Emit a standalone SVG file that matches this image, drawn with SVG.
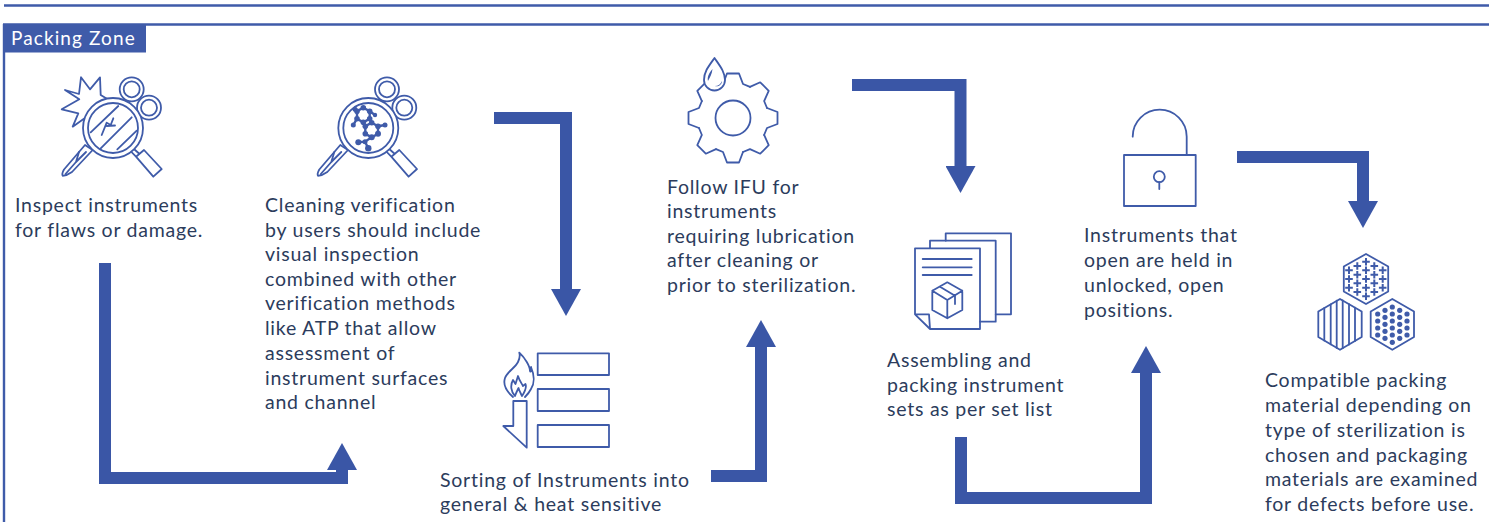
<svg xmlns="http://www.w3.org/2000/svg" xmlns:xlink="http://www.w3.org/1999/xlink" width="1489" height="522" viewBox="0 0 1489 522">
<style>
text{font-family:"Lato","Liberation Sans",sans-serif;font-size:19.5px;fill:#2c3c5c;letter-spacing:.76px}
.zone{fill:#fff;font-size:19px;letter-spacing:1.1px}
.ic{fill:none;stroke:#3f5ba9;stroke-width:1.8;stroke-linejoin:round;stroke-linecap:round}
.icw{fill:#fff;stroke:#3f5ba9;stroke-width:1.8;stroke-linejoin:round}
.fl{fill:#3f5ba9;stroke:none}
.conn{fill:none;stroke:#3a56a6;stroke-width:12;stroke-linejoin:miter}
.frame{fill:none;stroke:#3f5ba9;stroke-width:2.4}
</style>
<defs>
<marker id="head" markerUnits="userSpaceOnUse" markerWidth="27" markerHeight="30" refX="1" refY="15" orient="auto">
<path d="M0 0L27 15L0 30Z" fill="#3a56a6"/>
</marker>
<g id="tooth"><polyline points="34,-10 44.5,-6 44.5,6 34,10 31.1,17" class="ic"/></g>
<g id="plus"><path d="M-3.8 0H3.8M0-3.8V3.8" fill="none" stroke="#3f5ba9" stroke-width="2"/></g>
<g id="tool">
<path class="ic" d="M136 156.7L144 150L161.7 169L153.3 176.7ZM134.500 149.500L139 153.500M130.500 151L136 156.700"/>
<path class="icw" d="M85 145L64 169.500Q61.500 174 62.700 175.800Q67 175.500 72 172L92.700 150Z"/>
<path class="ic" d="M65.500 174L76 162L79 152M76 162L86 152"/>
<circle class="icw" cx="131.700" cy="89.300" r="12"/>
<circle class="ic" cx="131.700" cy="89.300" r="8"/>
<circle class="icw" cx="149" cy="107.700" r="12"/>
<circle class="ic" cx="149" cy="107.700" r="8"/>
<circle class="icw" cx="113" cy="128" r="30"/>
<circle class="ic" cx="113" cy="128" r="25"/>
</g>
</defs>

<g id="frame">
<path class="frame" d="M4 5.500H1489M3 24.500H1489M4 24V522"/>
</g>

<g id="zone-label">
<rect x="3" y="24" width="143" height="28.500" fill="#3f5ba9"/>
<text class="zone" x="11" y="44.500">Packing Zone</text>
</g>

<g id="connectors">
<polyline class="conn" points="105,263 105,478 342,478 342,469" marker-end="url(#head)"/>
<polyline class="conn" points="494,118 566,118 566,290" marker-end="url(#head)"/>
<polyline class="conn" points="711,476 761,476 761,346" marker-end="url(#head)"/>
<polyline class="conn" points="852,85 960.500,85 960.500,167" marker-end="url(#head)"/>
<polyline class="conn" points="961,437 961,498 1146,498 1146,372" marker-end="url(#head)"/>
<polyline class="conn" points="1237,157 1363,157 1363,202" marker-end="url(#head)"/>
</g>

<g id="node-inspect">
<path class="ic" d="M107.300 99L100.700 95L100 77.300L90 89.300L81 77.300L79 94L65 90L79.300 99.300L61.700 109.300L78.300 113.300L72.700 126.700L86 117.300"/>
<use href="#tool"/>
<path class="ic" d="M90.700 132.300L118.300 106M100.700 148.300L131.700 117.300M117.300 149.300L136.700 130.700M101.700 135L106.700 122.700L110.700 125L113.300 118.300M106.700 126L115 125.500"/>
<text x="15" y="211.500">Inspect instruments</text>
<text x="15" y="236.500">for flaws or damage.</text>
</g>

<g id="node-verification">
<use href="#tool" x="255.300"/>
<path fill="none" stroke="#3f5ba9" stroke-width="2.400" d="M363.300 107.700L369.700 111.300V118.700L363.300 122.300L357 118.700V111.300ZM371.700 122.700L378 126.300V133.700L371.700 137.300L365.300 133.700V126.300ZM369.700 118.700L371.700 122.700M363.300 122.300L365.300 126.300M357 118.700L353.300 125M378 126.300L385 125M369.700 111.300L375 115M357 111.300L355 109.300M371.700 137.300L365 141.700L358.300 142.300M365 141.700L368.300 148.300"/>
<g class="fl">
<circle cx="363.300" cy="107.700" r="2.800"/><circle cx="369.700" cy="111.300" r="2.800"/><circle cx="369.700" cy="118.700" r="2.800"/><circle cx="363.300" cy="122.300" r="2.800"/><circle cx="357" cy="118.700" r="2.800"/><circle cx="357" cy="111.300" r="2.800"/>
<circle cx="371.700" cy="122.700" r="2.800"/><circle cx="378" cy="126.300" r="2.800"/><circle cx="378" cy="133.700" r="3"/><circle cx="371.700" cy="137.300" r="3"/><circle cx="365.300" cy="133.700" r="2.800"/><circle cx="365.300" cy="126.300" r="2.800"/>
<circle cx="353.300" cy="125" r="2.500"/><circle cx="385" cy="125" r="2.500"/><circle cx="375" cy="115" r="2.200"/><circle cx="368.300" cy="148.300" r="3.200"/><circle cx="358.300" cy="142.300" r="3"/><circle cx="355" cy="109.300" r="2.500"/><circle cx="365" cy="141.700" r="2.500"/>
</g>
<text x="265" y="211.500">Cleaning verification</text>
<text x="265" y="236.500">by users should include</text>
<text x="265" y="260.500">visual inspection</text>
<text x="265" y="285.500">combined with other</text>
<text x="265" y="309.500">verification methods</text>
<text x="265" y="334.500">like ATP that allow</text>
<text x="265" y="359.500">assessment of</text>
<text x="265" y="384.500">instrument surfaces</text>
<text x="265" y="408.500">and channel</text>
</g>

<g id="node-sorting">
<rect class="ic" x="537.700" y="353.300" width="71.300" height="21.700"/>
<rect class="ic" x="537.700" y="389" width="71.300" height="22"/>
<rect class="ic" x="537.700" y="425" width="71.300" height="22"/>
<path class="ic" d="M513 397C505 390 503 384 505 378C507 372 515 368 518 362C520 358 520 355 519.300 352.700C525 358 530 366 530 371C530.500 373 532 370 531 367C534 374 535 383 531 389C529 393 527 395 525 397M515 396C511 392 510 385 513 380L515.500 384L518 376C519 380 522 384 523 386L525.500 384C527 388 524 393 522 396C520 392 519 390 518.500 388C517 391 516 393 515 396Z"/>
<path class="ic" d="M513.300 401H526.700V447.700L503.300 426H513.300Z"/>
<text x="440" y="486.500">Sorting of Instruments into</text>
<text x="440" y="510.500">general &amp; heat sensitive</text>
</g>

<g id="node-lubrication">
<g transform="translate(733 118)">
<use href="#tooth"/><use href="#tooth" transform="rotate(45)"/><use href="#tooth" transform="rotate(90)"/><use href="#tooth" transform="rotate(135)"/><use href="#tooth" transform="rotate(180)"/><use href="#tooth" transform="rotate(225)"/><use href="#tooth" transform="rotate(270)"/><use href="#tooth" transform="rotate(315)"/>
<circle class="ic" r="17.500"/>
</g>
<path class="icw" d="M714.500 58C708 67 704 72 704 80A10.500 10.500 0 0 0 725 80C725 72 720 66 714.500 58Z"/>
<path class="fl" d="M712.500 69C709 73 707 77 708 81C710 77 712 74 712.500 69ZM722 81C721 84 718 86 715 86C718 87 722 85 722 81Z"/>
<text x="667" y="193.500">Follow IFU for</text>
<text x="667" y="217.500">instruments</text>
<text x="667" y="242.500">requiring lubrication</text>
<text x="667" y="267">after cleaning or</text>
<text x="667" y="291.500">prior to sterilization.</text>
</g>

<g id="node-assembling">
<path class="ic" d="M945.700 240.700V233.300H1011V314.300H995.700"/>
<path class="ic" d="M930 248V240.700H995.700V321.700H980"/>
<path class="ic" d="M915 248.300H980V329H930L915 314.300ZM915 314.300H929L930 329"/>
<path class="ic" d="M922.700 259H971.700M922.700 267.300H971.700M922.700 275H971.700"/>
<path class="ic" d="M947.300 282.300L962.300 290.700V310L947.300 318.300L932.300 310V290.700ZM932.300 290.700L947.300 300L962.300 290.700M947.300 300V318.300M940 286.700L955 295.700V304"/>
<text x="887" y="366.500">Assembling and</text>
<text x="887" y="391.500">packing instrument</text>
<text x="887" y="416">sets as per set list</text>
</g>

<g id="node-unlocked">
<rect class="ic" x="1124" y="155" width="71.700" height="51"/>
<path class="ic" d="M1132.700 136.700A27 27 0 0 1 1186.700 136.700V155"/>
<circle class="ic" cx="1159.300" cy="176.700" r="5.500"/>
<path class="ic" d="M1159.300 182.200V189"/>
<text x="1084" y="242">Instruments that</text>
<text x="1084" y="267">open are held in</text>
<text x="1084" y="292">unlocked, open</text>
<text x="1084" y="316.500">positions.</text>
</g>

<g id="node-packaging">
<path class="ic" d="M1366 254L1388.200 266.500V291.500L1366 304L1343.800 291.500V266.500Z"/>
<use href="#plus" x="1349" y="270.300"/><use href="#plus" x="1349" y="279"/><use href="#plus" x="1349" y="287.700"/>
<use href="#plus" x="1357.300" y="266"/><use href="#plus" x="1357.300" y="274.700"/><use href="#plus" x="1357.300" y="283.300"/><use href="#plus" x="1357.300" y="292"/>
<use href="#plus" x="1366" y="261.700"/><use href="#plus" x="1366" y="270.300"/><use href="#plus" x="1366" y="279"/><use href="#plus" x="1366" y="287.700"/><use href="#plus" x="1366" y="296.300"/>
<use href="#plus" x="1374.300" y="266"/><use href="#plus" x="1374.300" y="274.700"/><use href="#plus" x="1374.300" y="283.300"/><use href="#plus" x="1374.300" y="292"/>
<use href="#plus" x="1382.700" y="270.300"/><use href="#plus" x="1382.700" y="279"/><use href="#plus" x="1382.700" y="287.700"/>
<path class="ic" d="M1340 299L1361.700 311.500V337L1340 349.800L1318.300 337V311.500Z"/>
<path class="ic" d="M1324.300 308V340.600M1330.700 304.300V344.300M1336.700 300.700V347.900M1342.700 300.400V348.200M1349 304.100V344.500M1355 307.600V341"/>
<path class="ic" d="M1392.300 299L1414 311.500V337L1392.300 349.800L1370.700 337V311.500Z"/>
<g class="fl">
<circle cx="1377.700" cy="314" r="2.600"/><circle cx="1377.700" cy="321" r="2.600"/><circle cx="1377.700" cy="328" r="2.600"/><circle cx="1377.700" cy="335" r="2.600"/>
<circle cx="1385" cy="310.300" r="2.600"/><circle cx="1385" cy="317.300" r="2.600"/><circle cx="1385" cy="324.300" r="2.600"/><circle cx="1385" cy="331.300" r="2.600"/><circle cx="1385" cy="338.300" r="2.600"/>
<circle cx="1392.300" cy="307" r="2.600"/><circle cx="1392.300" cy="314" r="2.600"/><circle cx="1392.300" cy="321" r="2.600"/><circle cx="1392.300" cy="328" r="2.600"/><circle cx="1392.300" cy="335" r="2.600"/><circle cx="1392.300" cy="342.300" r="2.600"/>
<circle cx="1399.700" cy="310.300" r="2.600"/><circle cx="1399.700" cy="317.300" r="2.600"/><circle cx="1399.700" cy="324.300" r="2.600"/><circle cx="1399.700" cy="331.300" r="2.600"/><circle cx="1399.700" cy="338.300" r="2.600"/>
<circle cx="1407" cy="314" r="2.600"/><circle cx="1407" cy="321" r="2.600"/><circle cx="1407" cy="328" r="2.600"/><circle cx="1407" cy="335" r="2.600"/>
</g>
<text x="1265" y="386.500">Compatible packing</text>
<text x="1265" y="411.500">material depending on</text>
<text x="1265" y="436.500">type of sterilization is</text>
<text x="1265" y="461.500">chosen and packaging</text>
<text x="1265" y="486">materials are examined</text>
<text x="1265" y="510.500">for defects before use.</text>
</g>
</svg>
